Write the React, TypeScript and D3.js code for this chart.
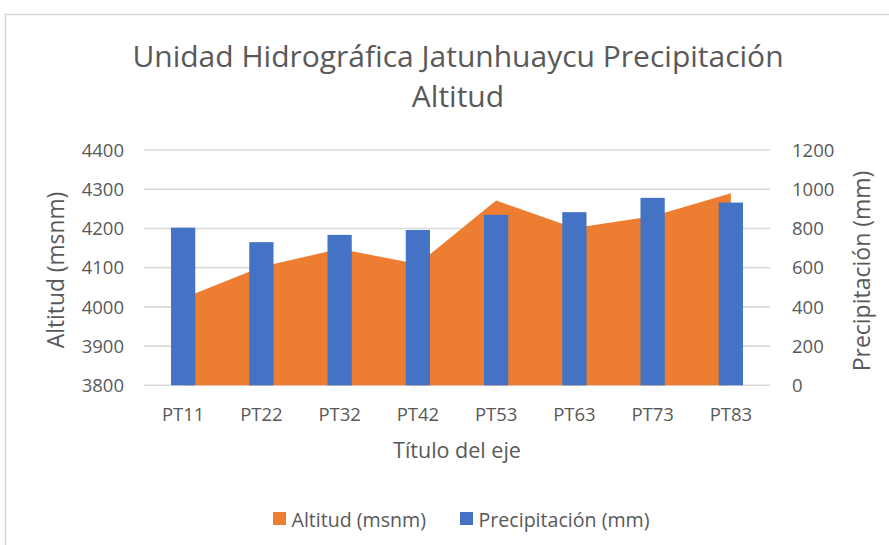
import React from "react";
import * as d3 from "d3";

const categories = ["PT11", "PT22", "PT32", "PT42", "PT53", "PT63", "PT73", "PT83"];
const altitud = [4022, 4102, 4148, 4109, 4271, 4201, 4231, 4290];
const precipitacion = [804, 730, 767, 792, 869, 883, 956, 932];
const leftTicks = [3800, 3900, 4000, 4100, 4200, 4300, 4400];
const rightTicks = [0, 200, 400, 600, 800, 1000, 1200];

const W = 889;
const H = 545;
const FONT = "'Open Sans', 'Noto Sans', sans-serif";
const TXT = "#595959";
const ORANGE = "#ED7D31";
const BLUE = "#4472C4";
const GRID = "#d9d9d9";

export default function App() {
  const left = 144, right = 770, top = 150, bottom = 385.3;
  const x = d3.scaleBand<string>().domain(categories).range([left, right]).padding(0);
  const yL = d3.scaleLinear().domain([3800, 4400]).range([bottom, top]);
  const yR = d3.scaleLinear().domain([0, 1200]).range([bottom, top]);
  const cx = (c: string) => (x(c) as number) + x.bandwidth() / 2;
  const barW = x.bandwidth() * 0.31;

  const areaGen = d3
    .area<number>()
    .x((_, i) => cx(categories[i]))
    .y0(yL(3800))
    .y1((d) => yL(d));

  return (
    <svg
      width={W}
      height={H}
      style={{ position: "absolute", left: 0, top: 0, background: "#fff" }}
      fontFamily={FONT}
    >
      <rect x={0} y={0} width={W} height={H} fill="#fff" />
      <rect x={5.5} y={14.5} width={W + 20} height={H + 20} fill="#fff" stroke={GRID} strokeWidth={1.5} />

      <text x={458} y={67} textAnchor="middle" fontSize={30} fill={TXT}>
        Unidad Hidrográfica Jatunhuaycu Precipitación
      </text>
      <text x={458} y={107} textAnchor="middle" fontSize={30} fill={TXT}>
        Altitud
      </text>

      {leftTicks.map((t) => (
        <line key={"g" + t} x1={left} x2={right} y1={yL(t)} y2={yL(t)} stroke={GRID} strokeWidth={1.6} />
      ))}

      <path d={areaGen(altitud) || ""} fill={ORANGE} />

      {precipitacion.map((v, i) => (
        <rect
          key={"b" + i}
          x={cx(categories[i]) - barW / 2}
          y={yR(v)}
          width={barW}
          height={yR(0) - yR(v)}
          fill={BLUE}
        />
      ))}

      {leftTicks.map((t) => (
        <text key={"lt" + t} x={124} y={yL(t)} dy="0.36em" textAnchor="end" fontSize={18.5} fill={TXT}>
          {t}
        </text>
      ))}
      {rightTicks.map((t) => (
        <text key={"rt" + t} x={792} y={yR(t)} dy="0.36em" textAnchor="start" fontSize={18.5} fill={TXT}>
          {t}
        </text>
      ))}
      {categories.map((c) => (
        <text key={"xl" + c} x={cx(c)} y={421} textAnchor="middle" fontSize={18.5} fill={TXT}>
          {c}
        </text>
      ))}

      <text x={457} y={458} textAnchor="middle" fontSize={21.5} fill={TXT}>
        Título del eje
      </text>
      <text
        transform={`translate(56,270) rotate(-90)`}
        textAnchor="middle"
        dy="0.35em"
        fontSize={22.8}
        fill={TXT}
      >
        Altitud (msnm)
      </text>
      <text
        transform={`translate(862,271) rotate(-90)`}
        textAnchor="middle"
        dy="0.35em"
        fontSize={23}
        fill={TXT}
      >
        Precipitación (mm)
      </text>

      <rect x={273} y={512} width={13} height={13} fill={ORANGE} />
      <text x={291.5} y={526.5} fontSize={19.6} fill={TXT}>
        Altitud (msnm)
      </text>
      <rect x={460} y={512} width={13} height={13} fill={BLUE} />
      <text x={478.5} y={526.5} fontSize={19.6} fill={TXT}>
        Precipitación (mm)
      </text>
    </svg>
  );
}
